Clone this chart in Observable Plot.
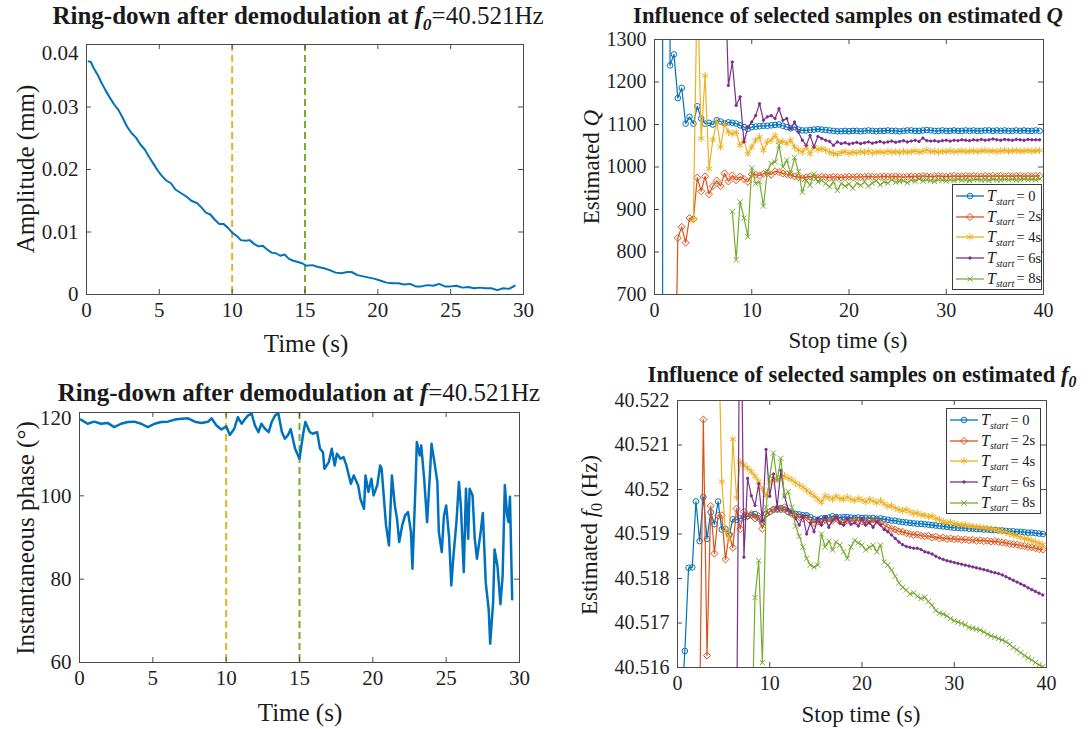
<!DOCTYPE html>
<html><head><meta charset="utf-8">
<script src="https://cdn.jsdelivr.net/npm/d3@7"></script>
<script src="https://cdn.jsdelivr.net/npm/@observablehq/plot@0.6"></script>
<style>
body{margin:0;background:#fff;}
#fig{position:relative;width:1091px;height:729px;font-family:"Liberation Serif","Times New Roman",serif;color:#1a1a1a;overflow:hidden;}
.title{position:absolute;white-space:nowrap;transform:translate(-50%,-50%);line-height:1;}
.xl{position:absolute;white-space:nowrap;transform:translate(-50%,-50%);line-height:1;}
.yl{position:absolute;white-space:nowrap;transform:translate(-50%,-50%) rotate(-90deg);line-height:1;}
sub{font-size:0.7em;vertical-align:-0.35em;line-height:0;}
.legend{position:absolute;background:#fff;border:1.5px solid #3a3a3a;box-sizing:border-box;padding:1px 1px 1px 2px;
  font-family:"Liberation Serif","Times New Roman",serif;font-size:14.5px;color:#1a1a1a;overflow:visible;}
.legend .row{display:flex;align-items:center;height:20.6px;white-space:nowrap;}
.legend .row svg{margin-right:2px;flex:none;}
.legend .T{font-style:italic;font-size:16px;}
.legend .s{font-style:italic;font-size:10px;position:relative;top:5px;margin-right:1px;}
</style>
</head><body>
<div id="fig"></div>
<script>
// ---------- Panel A: amplitude ring-down ----------
const ampTime = [0.15,0.3,0.5,0.8,1.0,1.3,1.6,1.9,2.2,2.5,2.8,3.1,3.4,3.7,4.0,4.3,4.6,4.9,5.2,5.5,5.8,6.1,6.5,6.9,7.2,7.6,7.9,8.2,8.5,8.8,9.1,9.4,9.7,10.0,10.3,10.6,10.9,11.2,11.5,11.8,12.1,12.4,12.7,13.0,13.3,13.6,13.9,14.2,14.5,14.8,15.1,15.5,15.9,16.3,16.7,17.1,17.5,17.9,18.2,18.6,19.0,19.4,19.8,20.2,20.6,21.0,21.4,21.8,22.2,22.6,23.0,23.4,23.8,24.2,24.6,25.0,25.4,25.8,26.2,26.6,27.0,27.4,27.8,28.2,28.6,29.0,29.4];
const ampValue = [0.0373,0.0372,0.0362,0.0350,0.0340,0.0327,0.0315,0.0304,0.0295,0.0282,0.0268,0.0258,0.0251,0.0240,0.0232,0.0220,0.0209,0.0198,0.0189,0.0182,0.0178,0.0168,0.0162,0.0156,0.0150,0.0146,0.0139,0.0131,0.0128,0.0120,0.0113,0.0113,0.0107,0.0099,0.0094,0.0087,0.0086,0.0087,0.0081,0.0077,0.0078,0.0072,0.0067,0.0066,0.0062,0.0064,0.0057,0.0054,0.0052,0.0050,0.0046,0.0047,0.0044,0.0042,0.0039,0.0035,0.0034,0.0036,0.0036,0.0031,0.0029,0.0027,0.0025,0.0022,0.0019,0.0018,0.0018,0.0016,0.0017,0.0013,0.0013,0.0015,0.0014,0.0017,0.0013,0.0013,0.0014,0.0011,0.0012,0.0010,0.0011,0.0010,0.0010,0.0007,0.0010,0.0009,0.0014];

// ---------- Panel B: instantaneous phase ----------
const phaseTime = [0.1,0.55,1.0,1.46,1.92,2.37,2.83,3.29,3.74,4.2,4.66,5.12,5.57,6.03,6.49,6.95,7.4,7.86,8.32,8.77,9.0,9.34,9.68,10.0,10.25,10.55,10.8,11.05,11.3,11.5,11.74,11.96,12.2,12.4,12.65,12.9,13.1,13.34,13.55,13.8,14.0,14.2,14.4,14.7,15.0,15.25,15.4,15.7,15.9,16.2,16.4,16.6,16.7,17.0,17.2,17.4,17.55,17.8,18.0,18.2,18.5,18.7,19.0,19.15,19.4,19.5,19.7,19.9,20.05,20.3,20.5,20.6,20.9,21.1,21.3,21.5,21.65,21.8,22.0,22.2,22.4,22.6,22.7,22.9,23.0,23.2,23.3,23.5,23.7,23.9,24.0,24.2,24.4,24.5,24.7,24.85,25.0,25.2,25.35,25.5,25.7,25.87,26.0,26.2,26.35,26.5,26.6,26.8,26.95,27.1,27.35,27.5,27.7,27.9,28.0,28.2,28.3,28.5,28.7,28.85,29.0,29.15,29.25,29.35,29.5];
const phaseValue = [118.3,117.3,117.8,117.3,117.5,116.5,117.3,117.7,117.8,117.3,116.5,117.3,117.7,117.8,118.3,118.5,118.6,117.8,117.5,117.8,118.6,116.9,115.9,116.7,114.6,116.1,118.9,117.3,118.5,119.3,119.7,116.9,115.3,117.3,116.1,115.3,117.7,119.3,119.9,115.3,113.7,114.5,116.0,111.3,108.9,114.9,117.7,115.3,114.9,115.3,111.3,110.5,106.5,108.1,111.3,107.3,110.1,108.9,109.3,107.3,102.9,104.9,102.5,99.3,96.9,104.9,100.9,104.1,100.1,102.5,107.3,106.5,92.9,88.1,104.9,97.7,94.5,88.9,92.9,95.3,96.1,91.3,82.5,101.7,112.9,109.7,112.1,104.1,93.7,105.7,112.5,108.1,103.3,91.3,86.5,95.3,97.7,90.1,78.5,85.7,93.7,103.3,97.7,81.7,101.7,89.7,101.7,100.1,89.7,84.9,91.3,95.9,79.1,72.7,64.5,74.3,87.1,83.1,74.0,80.8,102.6,95.5,93.7,99.8,75.2];

const markerTimes = [10, 15];

// ---------- Right panels: stop times ----------
const stopTime = [
 0.4,0.8,1.2,1.6,2.0,2.4,2.8,3.2,3.6,4.0,
 4.4,4.8,5.2,5.6,6.0,6.4,6.8,7.2,7.6,8.0,
 8.4,8.8,9.2,9.6,10.0,10.4,10.8,11.2,11.6,12.0,
 12.4,12.8,13.2,13.6,14.0,14.4,14.8,15.2,15.6,16.0,
 16.4,16.8,17.2,17.6,18.0,18.4,18.8,19.2,19.6,20.0,
 20.4,20.8,21.2,21.6,22.0,22.4,22.8,23.2,23.6,24.0,
 24.4,24.8,25.2,25.6,26.0,26.4,26.8,27.2,27.6,28.0,
 28.4,28.8,29.2,29.6,30.0,30.4,30.8,31.2,31.6,32.0,
 32.4,32.8,33.2,33.6,34.0,34.4,34.8,35.2,35.6,36.0,
 36.4,36.8,37.2,37.6,38.0,38.4,38.8,39.2,39.6];

const seriesNames = ["0", "2s", "4s", "6s", "8s"];

// Estimated Q
const qStart0 = [
 null,-3000,40000,1239,1265,1162,1186,1102,1118,1102,
 1143,1114,1102,1104,1100,1110,1107,1103,1105,1104,
 1102,1098,1094,1090,1094,1095,1096,1097,1097,1098,
 1099,1100,1097,1094,1091,1094,1088,1086,1086,1087,
 1088,1089,1088,1087,1086,1085,1084,1084,1085,1084,
 1085,1085,1084,1085,1086,1085,1084,1085,1085,1086,
 1085,1085,1084,1085,1086,1086,1085,1085,1086,1087,
 1086,1085,1085,1086,1085,1085,1086,1085,1085,1086,
 1085,1086,1085,1085,1086,1086,1085,1086,1085,1086,
 1085,1085,1086,1085,1086,1085,1085,1086,1085];
const qStart2 = [
 null,null,null,null,300,833,859,822,880,877,
 975,943,978,936,955,968,955,985,966,980,
 969,977,972,965,983,982,980,984,986,982,
 990,988,985,983,981,978,976,974,976,978,
 976,975,977,976,975,977,976,975,976,977,
 976,977,976,977,978,977,976,977,978,977,
 977,978,977,976,977,978,977,978,979,978,
 977,978,979,978,977,978,979,978,978,979,
 978,979,978,978,979,978,979,978,979,978,
 979,978,979,979,978,979,978,979,979];
const qStart4 = [
 null,null,null,null,null,null,null,null,null,877,
 1450,1067,1215,996,1064,1106,1047,1102,1082,1078,
 1082,1051,1063,1031,1047,1063,1071,1039,1059,1063,
 1074,1059,1060,1055,1063,1047,1040,1035,1047,1031,
 1047,1041,1043,1040,1035,1032,1030,1034,1036,1032,
 1035,1033,1036,1034,1037,1033,1035,1036,1034,1037,
 1035,1036,1034,1037,1035,1036,1038,1035,1037,1040,
 1036,1037,1035,1037,1036,1038,1036,1037,1038,1036,
 1037,1038,1036,1038,1039,1037,1038,1036,1038,1039,
 1037,1038,1039,1037,1038,1039,1037,1038,1039];
const qStart6 = [
 null,null,null,null,null,null,null,null,null,null,
 null,null,null,null,null,null,null,1500,1192,1247,
 1145,1165,1059,1094,1106,1121,1149,1110,1118,1121,
 1114,1137,1110,1114,1090,1106,1082,1063,1051,1074,
 1047,1072,1067,1063,1060,1051,1059,1055,1057,1054,
 1056,1058,1055,1057,1059,1056,1058,1060,1057,1059,
 1061,1058,1060,1062,1059,1061,1063,1060,1068,1062,
 1061,1062,1060,1062,1063,1061,1063,1062,1064,1063,
 1062,1064,1063,1065,1063,1064,1066,1064,1063,1065,
 1064,1063,1065,1064,1063,1065,1064,1064,1064];
const qStart8 = [
 null,null,null,null,null,null,null,null,null,null,
 null,null,null,null,null,null,null,null,null,895,
 782,918,880,836,998,961,965,908,990,1008,
 1012,1051,1000,1016,985,1022,990,941,969,957,
 984,965,969,961,953,965,945,961,955,960,
 950,962,957,965,955,962,968,958,965,962,
 970,964,966,968,963,969,966,972,967,970,
 968,966,970,969,967,970,968,971,969,970,
 968,970,971,969,970,968,971,970,969,971,
 970,971,969,970,972,970,971,970,972];

// Estimated f0 (Hz)
const fStart0 = [
 40.5150,40.51637,40.51824,40.51825,40.51973,40.51884,40.51983,40.51889,40.51949,40.51922,
 40.51973,40.51910,40.51911,40.51897,40.51933,40.51932,40.51935,40.51938,40.51940,40.51942,
 40.51945,40.51935,40.51925,40.51945,40.51950,40.51955,40.51955,40.51958,40.51955,40.51950,
 40.51948,40.51945,40.51944,40.51942,40.51942,40.51938,40.51933,40.51932,40.51935,40.51936,
 40.51937,40.51940,40.51938,40.51937,40.51938,40.51938,40.51937,40.51936,40.51937,40.51936,
 40.51936,40.51935,40.51936,40.51934,40.51935,40.51933,40.51932,40.51930,40.51930,40.51928,
 40.51927,40.51926,40.51925,40.51924,40.51923,40.51923,40.51922,40.51921,40.51920,40.51919,
 40.51918,40.51917,40.51916,40.51915,40.51914,40.51914,40.51913,40.51913,40.51912,40.51912,
 40.51911,40.51911,40.51910,40.51910,40.51909,40.51909,40.51908,40.51908,40.51907,40.51906,
 40.51906,40.51905,40.51905,40.51904,40.51903,40.51903,40.51902,40.51901,40.51900];
const fStart2 = [
 null,null,null,null,null,40.5150,40.52157,40.51627,40.51963,40.51856,
 40.51941,40.51942,40.51843,40.51900,40.51869,40.51957,40.51911,40.51950,40.51940,40.51945,
 40.51935,40.51940,40.51912,40.51945,40.51950,40.51955,40.51958,40.51955,40.51960,40.51950,
 40.51945,40.51940,40.51938,40.51935,40.51938,40.51930,40.51925,40.51928,40.51925,40.51932,
 40.51928,40.51930,40.51935,40.51928,40.51925,40.51930,40.51928,40.51932,40.51930,40.51928,
 40.51925,40.51930,40.51926,40.51930,40.51925,40.51920,40.51915,40.51912,40.51910,40.51906,
 40.51905,40.51902,40.51900,40.51898,40.51899,40.51896,40.51895,40.51896,40.51892,40.51894,
 40.51890,40.51892,40.51889,40.51890,40.51888,40.51889,40.51887,40.51888,40.51886,40.51887,
 40.51885,40.51886,40.51884,40.51885,40.51883,40.51884,40.51882,40.51881,40.51880,40.51878,
 40.51877,40.51876,40.51874,40.51873,40.51871,40.51870,40.51868,40.51866,40.51865];
const fStart4 = [
 null,null,null,null,null,null,null,null,null,null,
 40.5240,40.52018,40.51906,40.51890,40.52113,40.51982,40.52062,40.52055,40.52048,40.52040,
 40.52030,40.52018,40.52000,40.51986,40.52016,40.52025,40.52022,40.52028,40.52031,40.52025,
 40.52022,40.52015,40.52010,40.52005,40.51998,40.51992,40.51986,40.51978,40.51971,40.51986,
 40.51982,40.51978,40.51985,40.51980,40.51978,40.51983,40.51978,40.51975,40.51980,40.51976,
 40.51972,40.51978,40.51974,40.51970,40.51975,40.51968,40.51962,40.51964,40.51958,40.51955,
 40.51952,40.51955,40.51950,40.51946,40.51947,40.51943,40.51942,40.51939,40.51940,40.51935,
 40.51932,40.51928,40.51925,40.51927,40.51923,40.51922,40.51920,40.51921,40.51918,40.51917,
 40.51916,40.51915,40.51914,40.51913,40.51912,40.51910,40.51908,40.51906,40.51904,40.51901,
 40.51898,40.51896,40.51893,40.51890,40.51888,40.51885,40.51882,40.51879,40.51876];
const fStart6 = [
 null,null,null,null,null,null,null,null,null,null,
 null,null,null,null,null,40.5140,40.5260,40.51848,40.52025,40.51986,
 40.51964,40.52013,40.51930,40.52090,40.51985,40.52035,40.51960,40.52043,40.51985,40.51955,
 40.51950,40.51935,40.51920,40.51940,40.51900,40.51925,40.51905,40.51935,40.51920,40.51938,
 40.51915,40.51930,40.51938,40.51925,40.51920,40.51935,40.51922,40.51925,40.51918,40.51935,
 40.51920,40.51925,40.51915,40.51928,40.51920,40.51910,40.51905,40.51898,40.51890,40.51882,
 40.51876,40.51872,40.51870,40.51868,40.51868,40.51865,40.51860,40.51858,40.51855,40.51850,
 40.51846,40.51843,40.51840,40.51838,40.51836,40.51834,40.51832,40.51830,40.51828,40.51826,
 40.51824,40.51822,40.51820,40.51818,40.51815,40.51813,40.51811,40.51808,40.51804,40.51800,
 40.51796,40.51792,40.51788,40.51784,40.51779,40.51775,40.51771,40.51767,40.51763];
const fStart8 = [
 null,null,null,null,null,null,null,null,null,null,
 null,null,null,null,null,null,null,null,null,40.5140,
 40.51757,40.51840,40.51611,40.51960,40.52030,40.52082,40.52020,40.52070,40.51985,40.51995,
 40.51960,40.51918,40.51895,40.51871,40.51845,40.51830,40.51826,40.51830,40.51900,40.51871,
 40.51884,40.51864,40.51882,40.51875,40.51860,40.51845,40.51871,40.51886,40.51880,40.51875,
 40.51864,40.51870,40.51875,40.51860,40.51875,40.51837,40.51830,40.51819,40.51805,40.51790,
 40.51780,40.51774,40.51765,40.51768,40.51760,40.51755,40.51758,40.51748,40.51740,40.51728,
 40.51722,40.51720,40.51716,40.51710,40.51705,40.51702,40.51699,40.51696,40.51690,40.51688,
 40.51686,40.51684,40.51680,40.51675,40.51671,40.51668,40.51665,40.51662,40.51658,40.51652,
 40.51645,40.51640,40.51633,40.51627,40.51622,40.51617,40.51611,40.51606,40.51602];

// ---------- tick values & labels ----------
const ampXTicks = [0,5,10,15,20,25,30];
const ampXLabels = ["0","5","10","15","20","25","30"];
const ampYTicks = [0,0.01,0.02,0.03,0.04];
const ampYLabels = ["0","0.01","0.02","0.03","0.04"];
const phaseYTicks = [60,80,100,120];
const phaseYLabels = ["60","80","100","120"];
const stopXTicks = [0,10,20,30,40];
const stopXLabels = ["0","10","20","30","40"];
const qYTicks = [700,800,900,1000,1100,1200,1300];
const qYLabels = ["700","800","900","1000","1100","1200","1300"];
const fYTicks = [40.516,40.517,40.518,40.519,40.52,40.521,40.522];
const fYLabels = ["40.516","40.517","40.518","40.519","40.52","40.521","40.522"];

// ---------- styling ----------
const FONT = '"Liberation Serif","Times New Roman",serif';
const AXIS = "#4a4a4a";
const C = {blue:"#0072BD", orange:"#D95319", yellow:"#EDB120", purple:"#7E2F8E", green:"#77AC30"};
const seriesStyle = [
  {color:C.blue,   symbol:"circle",   r:2.8, fill:"none"},
  {color:C.orange, symbol:"diamond2", r:3.2, fill:"none"},
  {color:C.yellow, symbol:"asterisk", r:3.4, fill:"none"},
  {color:C.purple, symbol:"circle",   r:1.2, fill:C.purple},
  {color:C.green,  symbol:"times",    r:2.5, fill:"none"}
];

const fig = document.getElementById("fig");

function toRows(xs, ys) { return xs.map((x, i) => ({x, y: ys[i] == null ? null : ys[i]})); }

function panel(cfg) {
  const {left, top, width, height, fx0, fx1, fy0, fy1, xDomain, yDomain,
         xTicks, xLabels, yTicks, yLabels, marks, fontSize, topLabelDy = 0} = cfg;
  const fw = fx1 - fx0, fh = fy1 - fy0, tk = 5;
  const yFmt = d => yLabels[yTicks.indexOf(d)];
  const lastY = yTicks[yTicks.length - 1];
  const el = Plot.plot({
    width, height,
    marginLeft: fx0 - left, marginRight: left + width - fx1,
    marginTop: fy0 - top, marginBottom: top + height - fy1,
    x: {domain: xDomain}, y: {domain: yDomain},
    style: {fontFamily: FONT, fontSize: fontSize + "px", color: "#1f1f1f", background: "transparent", overflow: "visible"},
    marks: [
      ...marks,
      Plot.frame({stroke: AXIS, strokeWidth: 1}),
      Plot.tickX(xTicks, {x: d => d, insetTop: fh - tk, stroke: AXIS}),
      Plot.tickX(xTicks, {x: d => d, insetBottom: fh - tk, stroke: AXIS}),
      Plot.tickY(yTicks, {y: d => d, insetRight: fw - tk, stroke: AXIS}),
      Plot.tickY(yTicks, {y: d => d, insetLeft: fw - tk, stroke: AXIS}),
      Plot.axisX({ticks: xTicks, tickSize: 0, tickPadding: 8, label: null,
                  tickFormat: d => xLabels[xTicks.indexOf(d)]}),
      Plot.axisY({ticks: yTicks.slice(0, -1), tickSize: 0, tickPadding: 8, label: null, tickFormat: yFmt}),
      Plot.axisY({ticks: [lastY], tickSize: 0, tickPadding: 8, label: null, tickFormat: yFmt, dy: topLabelDy})
    ]
  });
  el.style.position = "absolute";
  el.style.margin = "0";
  el.style.left = left + "px";
  el.style.top = top + "px";
  fig.appendChild(el);
}

function seriesMarks(allY) {
  const marks = [];
  allY.forEach((ys, k) => {
    const s = seriesStyle[k];
    const rows = toRows(stopTime, ys);
    marks.push(Plot.line(rows, {x: "x", y: "y", stroke: s.color, strokeWidth: 1.2, clip: true}));
    marks.push(Plot.dot(rows.filter(d => d.y != null), {x: "x", y: "y", symbol: s.symbol, r: s.r,
      stroke: s.color, fill: s.fill, strokeWidth: 1, clip: true}));
  });
  return marks;
}

// Panel A
panel({left:0, top:0, width:545, height:365, fx0:86, fx1:523, fy0:44, fy1:294, fontSize:21, topLabelDy:9,
  xDomain:[0,30], yDomain:[0,0.04], xTicks:ampXTicks, xLabels:ampXLabels, yTicks:ampYTicks, yLabels:ampYLabels,
  marks:[
    Plot.ruleX([markerTimes[0]], {x: d => d, stroke: C.yellow, strokeWidth: 2, strokeDasharray: "7,4"}),
    Plot.ruleX([markerTimes[1]], {x: d => d, stroke: C.green, strokeWidth: 2, strokeDasharray: "7,4"}),
    Plot.line(toRows(ampTime, ampValue), {x:"x", y:"y", stroke: C.blue, strokeWidth: 2, clip: true})
  ]});

// Panel B
panel({left:0, top:365, width:545, height:364, fx0:79, fx1:519, fy0:412, fy1:662, fontSize:21, topLabelDy:6,
  xDomain:[0,30], yDomain:[60,120], xTicks:ampXTicks, xLabels:ampXLabels, yTicks:phaseYTicks, yLabels:phaseYLabels,
  marks:[
    Plot.ruleX([markerTimes[0]], {x: d => d, stroke: C.yellow, strokeWidth: 2, strokeDasharray: "7,4"}),
    Plot.ruleX([markerTimes[1]], {x: d => d, stroke: C.green, strokeWidth: 2, strokeDasharray: "7,4"}),
    Plot.line(toRows(phaseTime, phaseValue), {x:"x", y:"y", stroke: C.blue, strokeWidth: 2.5, clip: true})
  ]});

// Panel C
panel({left:545, top:0, width:546, height:365, fx0:654, fx1:1043, fy0:39, fy1:294, fontSize:20,
  xDomain:[0,40], yDomain:[700,1300], xTicks:stopXTicks, xLabels:stopXLabels, yTicks:qYTicks, yLabels:qYLabels,
  marks: seriesMarks([qStart0, qStart2, qStart4, qStart6, qStart8])});

// Panel D
panel({left:545, top:365, width:546, height:364, fx0:677, fx1:1046, fy0:400, fy1:667, fontSize:20,
  xDomain:[0,40], yDomain:[40.516,40.522], xTicks:stopXTicks, xLabels:stopXLabels, yTicks:fYTicks, yLabels:fYLabels,
  marks: seriesMarks([fStart0, fStart2, fStart4, fStart6, fStart8])});

// ---------- text ----------
function addText(cls, html, x, y, size) {
  const d = document.createElement("div");
  d.className = cls; d.innerHTML = html;
  d.style.left = x + "px"; d.style.top = y + "px"; d.style.fontSize = size + "px";
  fig.appendChild(d);
}
addText("title", '<b>Ring-down after demodulation at <i>f</i><sub><i>0</i></sub></b>=40.521Hz', 298, 15, 25);
addText("title", '<b>Ring-down after demodulation at <i>f</i></b>=40.521Hz', 299, 392, 25);
addText("title", '<b>Influence of selected samples on estimated <i>Q</i></b>', 848, 16, 22.7);
addText("title", '<b>Influence of selected samples on estimated <i>f</i><sub><i>0</i></sub></b>', 862, 375, 22.7);
addText("xl", 'Time (s)', 306, 343, 25);
addText("xl", 'Time (s)', 300, 712, 25);
addText("xl", 'Stop time (s)', 848, 340, 23);
addText("xl", 'Stop time (s)', 861, 714, 23);
addText("yl", 'Amplitude (mm)', 25, 169, 25);
addText("yl", 'Instantaneous phase (°)', 25, 538, 25);
addText("yl", 'Estimated <i>Q</i>', 591, 167, 23);
addText("yl", 'Estimated <i>f</i><sub>0</sub> (Hz)', 589, 535, 23);

// ---------- legends ----------
const symbolTypes = {circle: d3.symbolCircle, diamond2: d3.symbolDiamond2, asterisk: d3.symbolAsterisk, times: d3.symbolTimes};
function legend(x, y, w, h) {
  const box = document.createElement("div");
  box.className = "legend";
  Object.assign(box.style, {left: x + "px", top: y + "px", width: w + "px", height: h + "px"});
  seriesStyle.forEach((s, k) => {
    const row = document.createElement("div");
    row.className = "row";
    const size = Math.PI * s.r * s.r;
    const path = d3.symbol(symbolTypes[s.symbol], size)();
    row.innerHTML = `<svg width="30" height="12"><line x1="1" x2="29" y1="6" y2="6" stroke="${s.color}" stroke-width="1.3"/>` +
      `<path d="${path}" transform="translate(15,6)" stroke="${s.color}" fill="${s.fill}" stroke-width="1"/></svg>` +
      `<span class="T">T</span><span class="s">start</span><span>&#8202;= ${seriesNames[k]}</span>`;
    box.appendChild(row);
  });
  fig.appendChild(box);
}
legend(952, 184, 90, 106);
legend(946, 408, 95, 106);
</script>
</body></html>
